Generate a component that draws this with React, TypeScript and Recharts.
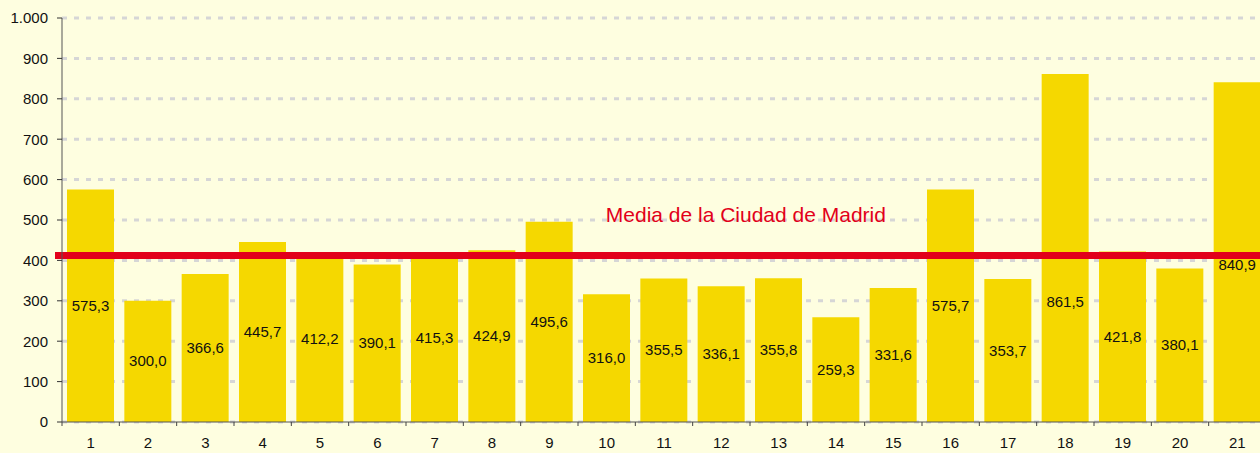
import { BarChart, Bar, XAxis, YAxis, CartesianGrid, ReferenceLine, LabelList } from "recharts";

const distritos = ["1", "2", "3", "4", "5", "6", "7", "8", "9", "10", "11", "12", "13", "14", "15", "16", "17", "18", "19", "20", "21"];
const valores = [575.3, 300.0, 366.6, 445.7, 412.2, 390.1, 415.3, 424.9, 495.6, 316.0, 355.5, 336.1, 355.8, 259.3, 331.6, 575.7, 353.7, 861.5, 421.8, 380.1, 840.9];
const mediaMadrid = 412;
const yTicks = [0, 100, 200, 300, 400, 500, 600, 700, 800, 900, 1000];

const data = distritos.map((d, i) => ({ distrito: d, valor: valores[i] }));

const W = 1270;
const H = 453;
const LEFT = 62;
const RIGHT = 4;
const TOP = 18;
const XAXIS_H = 31;
const BAND = (W - LEFT - RIGHT) / distritos.length;
const FONT = "Liberation Sans, Arial, sans-serif";

// a couple of labels sit lower than the bar middle in the original
const labelNudge: Record<number, number> = { 17: 54, 20: 13 };

const fmtMiles = (v: number) => v.toLocaleString("de-DE");
const fmtDecimal = (v: number) => v.toFixed(1).replace(".", ",");

const XTick = (props: any) => {
  const { x, payload } = props;
  const axisY = H - XAXIS_H;
  return (
    <g>
      <line x1={x - BAND / 2} x2={x - BAND / 2} y1={axisY} y2={axisY + 4} stroke="#444" />
      {payload.index === distritos.length - 1 && (
        <line x1={x + BAND / 2} x2={x + BAND / 2} y1={axisY} y2={axisY + 4} stroke="#444" />
      )}
      <text x={x} y={axisY + 26} textAnchor="middle" fontSize={15} fontFamily={FONT} fill="#111">
        {payload.value}
      </text>
    </g>
  );
};

const ValueLabel = (props: any) => {
  const { x, y, width, height, value, index } = props;
  const cy = y + height / 2 + (labelNudge[index] || 0);
  return (
    <text x={x + width / 2} y={cy} dy={5} textAnchor="middle" fontSize={15} fontFamily={FONT} fill="#111">
      {fmtDecimal(value)}
    </text>
  );
};

const MediaLine = (props: any) => {
  const { x1, x2, y1, y2 } = props;
  return <line x1={x1 - 7} x2={x2} y1={y1} y2={y2} stroke="#E2001A" strokeWidth={7} />;
};

const MediaLabel = (props: any) => {
  const { viewBox } = props;
  return (
    <text
      x={viewBox.x + viewBox.width * 0.568}
      y={viewBox.y - 34}
      textAnchor="middle"
      fontSize={21}
      fontFamily={FONT}
      fill="#E2001A"
    >
      Media de la Ciudad de Madrid
    </text>
  );
};

export default function App() {
  return (
    <div
      style={{
        position: "fixed",
        left: 0,
        top: 0,
        width: 1260,
        height: H,
        overflow: "hidden",
        background: "#FEFEE0",
      }}
    >
      <BarChart
        width={W}
        height={H}
        data={data}
        margin={{ top: TOP, right: RIGHT, left: 0, bottom: 0 }}
        barCategoryGap={5}
      >
        <CartesianGrid vertical={false} stroke="#D6D6D6" strokeWidth={3} strokeDasharray="5 7" />
        <XAxis
          dataKey="distrito"
          interval={0}
          height={XAXIS_H}
          tickLine={false}
          axisLine={{ stroke: "#555" }}
          tick={<XTick />}
        />
        <YAxis
          width={LEFT}
          domain={[0, 1000]}
          ticks={yTicks}
          tickFormatter={fmtMiles}
          tickSize={5}
          tickMargin={9}
          axisLine={{ stroke: "#555" }}
          tickLine={{ stroke: "#333" }}
          tick={{ fontSize: 15, fontFamily: FONT, fill: "#111" }}
        />
        <Bar dataKey="valor" fill="#F5D800" isAnimationActive={false}>
          <LabelList dataKey="valor" content={<ValueLabel />} />
        </Bar>
        <ReferenceLine y={mediaMadrid} shape={<MediaLine />} label={<MediaLabel />} />
      </BarChart>
    </div>
  );
}
